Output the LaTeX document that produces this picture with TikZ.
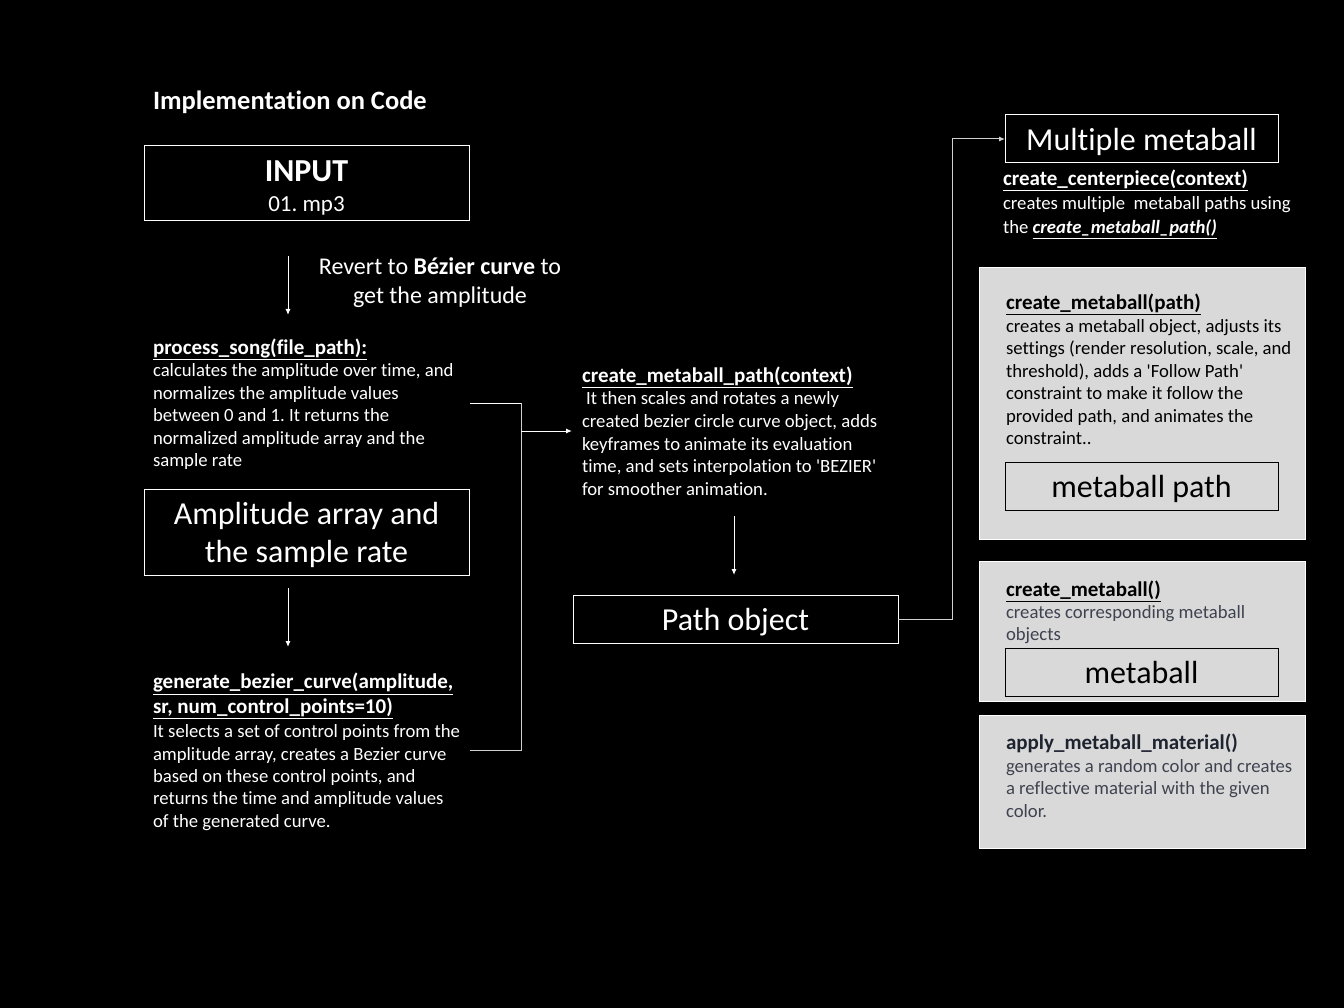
\documentclass[tikz,border=0pt]{standalone}
\usepackage{fontspec}
\setmainfont{Carlito}[Ligatures={TeXOff,CommonOff}]
\usetikzlibrary{arrows.meta}
\frenchspacing
\definecolor{boxgray}{HTML}{D9D9D9}
\definecolor{linegray}{HTML}{D0D0D0}
\definecolor{descgray}{HTML}{3F4350}
\definecolor{headdark}{HTML}{1E2330}
\newcommand{\hd}[1]{{\fontsize{21}{22.5}\selectfont\bfseries #1}}
\begin{document}
\begin{tikzpicture}[x=1pt,y=-1pt,
  every node/.style={inner sep=0pt, outer sep=0pt},
  wbox/.style={draw=white, line width=1pt, fill=black, text=white, align=center},
  gbox/.style={draw=white, line width=1pt, fill=boxgray},
  big/.style={font=\fontsize{32}{38}\selectfont, text height=26pt, text depth=3pt},
  kbox/.style={draw=black, line width=1pt, text=black, align=center, big},
  txt/.style={text=white, anchor=north west, align=left, font=\fontsize{18.7}{22.5}\selectfont},
  conn/.style={draw=white, line width=1pt},
  gconn/.style={draw=linegray, line width=1pt},
  arr/.style={-{Latex[length=6pt,width=5pt]}},
]
\useasboundingbox[fill=black] (0,0) rectangle (1344,1008);

% title
\node[anchor=base west, text=white, font=\fontsize{26.5}{30}\selectfont\bfseries] (title) at (153,110) {Implementation on Code};

% left column
\node[wbox, minimum width=325pt, minimum height=75pt] (input) at (306.5,183.5) {};
\node[text=white, align=center, font=\fontsize{23}{30}\selectfont] (inputtxt) at (306.5,187.5)
  {{\fontsize{32}{30}\selectfont\bfseries INPUT}\\01. mp3};

\node[text=white, align=center, font=\fontsize{24}{29}\selectfont] (revert) at (440,283)
  {Revert to \textbf{Bézier curve} to\\get the amplitude};

\node[txt] (ps) at (153,338.25) {\strut\hd{\underline{process\_song(file\_path):}}\\
calculates the amplitude over time, and\\
normalizes the amplitude values\\
between 0 and 1. It returns the\\
normalized amplitude array and the\\
sample rate};

\node[wbox, minimum width=325pt, minimum height=86pt] (amp) at (306.5,532) {};
\node[text=white, align=center, font=\fontsize{32}{38}\selectfont] (amptxt) at (306.5,534.5)
  {Amplitude array and\\the sample rate};

\node[txt, font=\fontsize{18.7}{22.3}\selectfont] (gb) at (153,673.25) {\strut\hd{\underline{generate\_bezier\_curve(amplitude,}}\\[2.5pt]
\hd{\underline{sr, num\_control\_points=10)}}\\[2pt]
It selects a set of control points from the\\
amplitude array, creates a Bezier curve\\
based on these control points, and\\
returns the time and amplitude values\\
of the generated curve.};

% middle column
\node[txt, font=\fontsize{18.7}{22.6}\selectfont] (cmp) at (582,366.5) {\strut\hd{\underline{create\_metaball\_path(context)}}\\
\ It then scales and rotates a newly\\
created bezier circle curve object, adds\\
keyframes to animate its evaluation\\
time, and sets interpolation to 'BEZIER'\\
for smoother animation.};

\node[wbox, big, minimum width=325pt, minimum height=48pt] (pathobj) at (735.5,619) {Path object};

% right column
\node[wbox, big, minimum width=273pt, minimum height=48pt] (multi) at (1141.5,139) {Multiple metaball};

\node[txt, font=\fontsize{18.7}{24}\selectfont] (cc) at (1003,169) {\strut\hd{\underline{create\_centerpiece(context)}}\\
creates multiple\ \ metaball paths using\\
the \textbf{\textit{\underline{create\_metaball\_path()}}}};

\node[gbox, minimum width=326pt, minimum height=271pt] (g1) at (1142,403.5) {};
\node[txt, text=black] (g1t) at (1006,294) {\strut\hd{\underline{create\_metaball(path)}}\\
creates a metaball object, adjusts its\\
settings (render resolution, scale, and\\
threshold), adds a 'Follow Path'\\
constraint to make it follow the\\
provided path, and animates the\\
constraint..};
\node[kbox, minimum width=273pt, minimum height=48pt] (mpath) at (1141.5,486) {metaball path};

\node[gbox, minimum width=326pt, minimum height=140pt] (g2) at (1142,631) {};
\node[txt, text=descgray, font=\fontsize{18.7}{22}\selectfont] (g2t) at (1006,581) {\strut\textcolor{black}{\hd{\underline{create\_metaball()}}}\\
creates corresponding metaball\\
objects};
\node[kbox, minimum width=273pt, minimum height=48pt] (mball) at (1141.5,672) {metaball};

\node[gbox, minimum width=326pt, minimum height=133pt] (g3) at (1142,781.5) {};
\node[txt, text=descgray, font=\fontsize{18.7}{22.7}\selectfont] (g3t) at (1006,733.5) {\strut\textcolor{headdark}{\hd{apply\_metaball\_material()}}\\
generates a random color and creates\\
a reflective material with the given\\
color.};

% connectors
\coordinate (a1s) at (288,256);
\coordinate (a1e) at (288,315);
\draw[conn, arr] (a1s) -- (a1e);

\coordinate (a2s) at (288,588);
\coordinate (a2e) at (288,647);
\draw[conn, arr] (a2s) -- (a2e);

\coordinate (a3s) at (734,516);
\coordinate (a3e) at (734,575);
\draw[conn, arr] (a3s) -- (a3e);

\coordinate (psout) at (470,403);
\coordinate (gbout) at (470,750);
\coordinate (join) at (521,431);
\coordinate (cmpin) at (572,431);
\draw[conn] (psout) -- ++(51,0);
\draw[gconn] (psout) ++(51,0) |- (gbout);
\draw[conn, arr] (join) -- (cmpin);

\draw[gconn, arr] (pathobj.east) -- ++(54,0) |- (multi.west);
\end{tikzpicture}
\end{document}
